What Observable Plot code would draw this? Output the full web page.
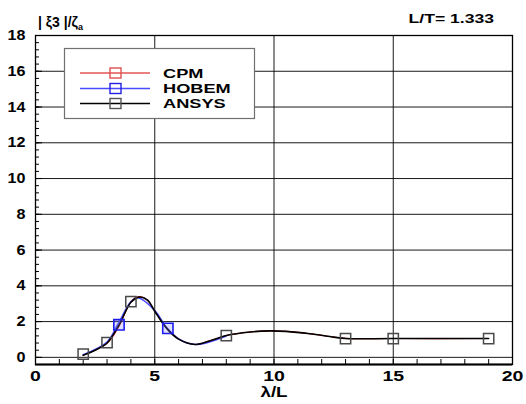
<!DOCTYPE html>
<html>
<head>
<meta charset="utf-8">
<script src="https://cdn.jsdelivr.net/npm/d3@7"></script>
<script src="https://cdn.jsdelivr.net/npm/@observablehq/plot@0.6"></script>
<style>
  html, body { margin: 0; padding: 0; background: #fff; }
  svg { display: block; }
</style>
</head>
<body>
<div id="chart"></div>
<script>
// Heave RAO |ξ3|/ζa against wavelength ratio λ/L (L/T = 1.333)

// ANSYS solution (smooth curve)
const ansysX = [2, 2.5, 3, 3.5, 4, 4.35, 4.7, 5, 5.5, 6, 6.7, 7.3, 8, 9, 9.8, 10.5, 11.5, 12.5, 13, 15, 19];
const ansysY = [0.12, 0.4, 0.8, 1.8, 3.08, 3.37, 3.2, 2.58, 1.62, 1.02, 0.72, 0.92, 1.22, 1.42, 1.48, 1.45, 1.32, 1.13, 1.05, 1.05, 1.05];
// CPM solution
const cpmX = [2, 3, 3.5, 4, 4.3, 4.65, 5, 5.5, 6, 6.7, 7.3, 8, 9, 9.8, 10.5, 11.5, 12.5, 13, 15, 19];
const cpmY = [0.12, 0.78, 1.74, 3.12, 3.39, 3.24, 2.6, 1.63, 1.02, 0.72, 0.92, 1.22, 1.42, 1.48, 1.45, 1.32, 1.14, 1.06, 1.05, 1.05];
// HOBEM solution
const hobemX = [2, 3, 3.45, 4, 4.3, 5, 5.5, 6, 6.7, 8];
const hobemY = [0.15, 0.86, 1.84, 3.1, 3.33, 2.62, 1.66, 1.03, 0.72, 1.2];

// Symbols
const ansysMarkX = [2, 3, 4, 8, 13, 15, 19];
const ansysMarkY = [0.18, 0.82, 3.12, 1.22, 1.05, 1.05, 1.05];
const hobemMarkX = [3.5, 5.55];
const hobemMarkY = [1.82, 1.62];

// Axes
const xTicks = [0, 5, 10, 15, 20];
const xMinor = d3.range(0, 21, 1);
const yTicks = d3.range(0, 19, 2);
const yMinor = d3.range(0, 46).map(i => i * 0.4);
const yGrid = [0, 2, 4, 6, 8, 10, 12, 14, 16];
const xGrid = [5, 10, 15];
const xDomain = [0, 20];
const yDomain = [-0.4, 18];

const series = [
  {name: "CPM", x: cpmX, y: cpmY, color: "#d40000", width: 1.1, mark: "#e05050"},
  {name: "HOBEM", x: hobemX, y: hobemY, color: "#4a4aff", width: 1.6, mark: "#2020e0"},
  {name: "ANSYS", x: ansysX, y: ansysY, color: "#000000", width: 1.6, mark: "#555555"}
];
const toRows = s => s.x.map((x, i) => ({x, y: s.y[i]}));

const W = 526, H = 404;
const mL = 35, mR = 14, mT = 35, mB = 40;
const frameW = W - mL - mR, frameH = H - mT - mB;

const font = "'Liberation Sans', Arial, Helvetica, sans-serif";

const plot = Plot.plot({
  width: W,
  height: H,
  marginLeft: mL,
  marginRight: mR,
  marginTop: mT,
  marginBottom: mB,
  style: {fontFamily: font, fontSize: "14px", background: "#fff", color: "#000"},
  x: {domain: xDomain, label: null},
  y: {domain: yDomain, label: null},
  marks: [
    Plot.gridX(xGrid, {stroke: "#000", strokeOpacity: 0.9, strokeWidth: 1}),
    Plot.gridY(yGrid, {stroke: "#000", strokeOpacity: 0.9, strokeWidth: 1}),
    // inward tick marks
    Plot.tickX(xMinor, {x: d => d, insetTop: frameH - 5, stroke: "#000", strokeWidth: 1}),
    Plot.tickY(yMinor, {y: d => d, insetRight: frameW - 4, stroke: "#000", strokeWidth: 1}),
    Plot.tickY(yTicks, {y: d => d, insetRight: frameW - 7, stroke: "#000", strokeWidth: 1}),
    Plot.axisX({ticks: xTicks, tickSize: 0, tickPadding: 6, fontSize: 15, label: null}),
    Plot.axisY({ticks: yTicks, tickSize: 0, tickPadding: 10, fontSize: 14, label: null}),
    ...series.map(s => Plot.line(toRows(s), {x: "x", y: "y", curve: "catmull-rom", stroke: s.color, strokeWidth: s.width})),
    Plot.dot(hobemMarkX.map((x, i) => ({x, y: hobemMarkY[i]})), {x: "x", y: "y", symbol: "square", r: 5.8, stroke: "#1c1cf0", strokeWidth: 1.6, fill: "#7f7fff", fillOpacity: 0.25}),
    Plot.dot(ansysMarkX.map((x, i) => ({x, y: ansysMarkY[i]})), {x: "x", y: "y", symbol: "square", r: 5.8, stroke: "#4a4a4a", strokeWidth: 1.5, fill: "none"}),
    Plot.frame({stroke: "#000", strokeWidth: 1.3}),
    Plot.ruleY([yDomain[0]], {stroke: "#000", strokeWidth: 2.2}),
    Plot.text(["λ/L"], {frameAnchor: "bottom", dy: 32, fontSize: 15, fontWeight: "bold", fill: "#000"})
  ]
});

document.getElementById("chart").appendChild(plot);
const svg = d3.select(plot);

// Widen glyphs horizontally
function stretch(sel, k) {
  sel.each(function () {
    const w = this.getComputedTextLength();
    this.setAttribute("textLength", (w * k).toFixed(1));
    this.setAttribute("lengthAdjust", "spacingAndGlyphs");
  });
}

svg.selectAll('g[aria-label="x-axis tick label"] text').attr("font-weight", "bold");
svg.selectAll('g[aria-label="y-axis tick label"] text').attr("font-weight", "bold");
stretch(svg.selectAll('g[aria-label="x-axis tick label"] text'), 1.3);
stretch(svg.selectAll('g[aria-label="y-axis tick label"] text'), 1.15);
stretch(svg.selectAll('g[aria-label="text"] text'), 1.25);

// Titles
const t1 = svg.append("text")
  .attr("x", 38).attr("y", 27).attr("text-anchor", "start")
  .attr("font-family", font).attr("font-size", 14).attr("font-weight", "bold")
  .attr("fill", "#000");
t1.append("tspan").text("| ξ3 |/ζ");
t1.append("tspan").attr("font-size", 9).attr("dy", 3).text("a");

const t2 = svg.append("text")
  .attr("x", 494).attr("y", 23).attr("text-anchor", "end")
  .attr("font-family", font).attr("font-size", 13.5).attr("font-weight", "bold")
  .attr("fill", "#000").text("L/T= 1.333");
stretch(t2, 1.3);

// Legend
const lg = svg.append("g").attr("text-anchor", "start");
lg.append("rect").attr("x", 64.5).attr("y", 48.5).attr("width", 190).attr("height", 70)
  .attr("fill", "#fff").attr("stroke", "#707070").attr("stroke-width", 1.2);
const rowY = [73, 88.5, 103.5];
series.forEach((s, i) => {
  const y = rowY[i];
  lg.append("line").attr("x1", 80).attr("x2", 150).attr("y1", y).attr("y2", y)
    .attr("stroke", s.color).attr("stroke-width", s.width);
  lg.append("rect").attr("x", 110).attr("y", y - 5).attr("width", 11).attr("height", 10)
    .attr("fill", "none").attr("stroke", s.mark).attr("stroke-width", 1.4);
  const t = lg.append("text").attr("x", 163).attr("y", y).attr("dy", "0.36em")
    .attr("text-anchor", "start")
    .attr("font-family", font).attr("font-size", 13).attr("font-weight", "bold")
    .attr("fill", "#000").text(s.name);
  stretch(t, 1.4);
});
</script>
</body>
</html>
